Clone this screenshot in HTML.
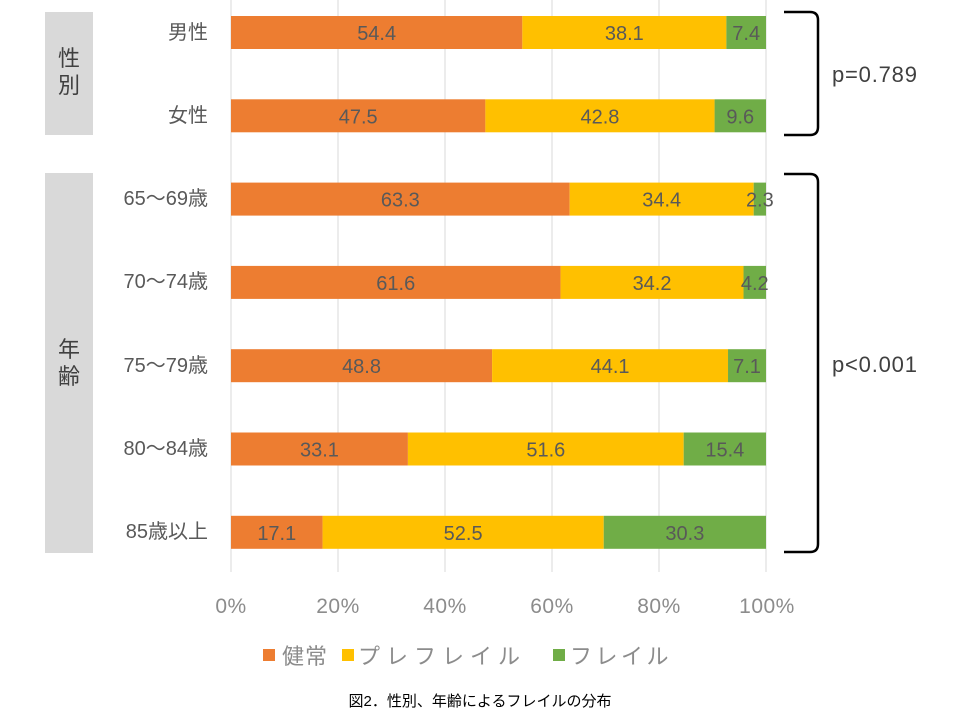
<!DOCTYPE html>
<html><head><meta charset="utf-8"><style>
body{margin:0;background:#fff;}
text{font-family:"Liberation Sans","Noto Sans CJK JP",sans-serif;}
</style></head><body>
<svg width="960" height="720" xmlns="http://www.w3.org/2000/svg">
<rect x="45" y="12" width="48" height="123" fill="#d9d9d9"/>
<rect x="45" y="173" width="48" height="380" fill="#d9d9d9"/>
<text x="69" y="66" font-size="22" fill="#404040" text-anchor="middle">性</text>
<text x="69" y="93" font-size="22" fill="#404040" text-anchor="middle">別</text>
<text x="69" y="357" font-size="22" fill="#404040" text-anchor="middle">年</text>
<text x="69" y="384" font-size="22" fill="#404040" text-anchor="middle">齢</text>
<g stroke="#d9d9d9" stroke-width="1">
<line x1="231" y1="0" x2="231" y2="572"/><line x1="338" y1="0" x2="338" y2="572"/>
<line x1="445" y1="0" x2="445" y2="572"/><line x1="552" y1="0" x2="552" y2="572"/>
<line x1="659" y1="0" x2="659" y2="572"/><line x1="766" y1="0" x2="766" y2="572"/>
</g>
<g font-size="20" fill="#595959" text-anchor="end">
<text x="208" y="39">男性</text><text x="208" y="122">女性</text>
<text x="208" y="205">65～69歳</text><text x="208" y="288">70～74歳</text>
<text x="208" y="372">75～79歳</text><text x="208" y="455">80～84歳</text>
<text x="208" y="538">85歳以上</text>
</g>
<g id="bars" font-size="20" fill="#595959" text-anchor="middle"></g>
<g font-size="21" fill="#8c8c8c" text-anchor="middle" letter-spacing="0.5">
<text x="231" y="613">0%</text><text x="338" y="613">20%</text><text x="445" y="613">40%</text>
<text x="552" y="613">60%</text><text x="659" y="613">80%</text><text x="767" y="613">100%</text>
</g>
<rect x="263" y="649" width="12" height="12" fill="#ed7d31"/>
<text x="282" y="664" font-size="22" fill="#8c8c8c" letter-spacing="1">健常</text>
<rect x="342" y="649" width="12" height="12" fill="#ffc000"/>
<text x="358" y="664" font-size="22" fill="#8c8c8c" letter-spacing="6">プレフレイル</text>
<rect x="553" y="649" width="12" height="12" fill="#70ad47"/>
<text x="570" y="664" font-size="22" fill="#8c8c8c" letter-spacing="3.5">フレイル</text>
<text x="480" y="706" font-size="15" fill="#000" text-anchor="middle">図2．性別、年齢によるフレイルの分布</text>
<path d="M784 12 H810 Q818 12 818 20 V127 Q818 135 810 135 H784" fill="none" stroke="#000" stroke-width="2.5"/>
<path d="M784 174 H810 Q818 174 818 182 V544 Q818 552 810 552 H784" fill="none" stroke="#000" stroke-width="2.5"/>
<text x="832" y="82" font-size="22" fill="#404040" letter-spacing="0.8">p=0.789</text>
<text x="832" y="372" font-size="22" fill="#404040" letter-spacing="0.8">p&lt;0.001</text>
</svg>
<script>
var d=[[54.4,38.1,7.4],[47.5,42.8,9.6],[63.3,34.4,2.3],[61.6,34.2,4.2],[48.8,44.1,7.1],[33.1,51.6,15.4],[17.1,52.5,30.3]];
var c=["#ed7d31","#ffc000","#70ad47"],g=document.getElementById("bars"),ns="http://www.w3.org/2000/svg",W=535;
d.forEach(function(r,i){var s=r[0]+r[1]+r[2],x=231,y=16+i*83.3;r.forEach(function(v,j){var w=v/s*W;
var e=document.createElementNS(ns,"rect");e.setAttribute("x",x);e.setAttribute("y",y);e.setAttribute("width",w);e.setAttribute("height",33);e.setAttribute("fill",c[j]);g.appendChild(e);
var t=document.createElementNS(ns,"text");t.setAttribute("x",x+w/2);t.setAttribute("y",y+24);t.textContent=v.toFixed(1);g.appendChild(t);x+=w;});});
</script>
</body></html>
